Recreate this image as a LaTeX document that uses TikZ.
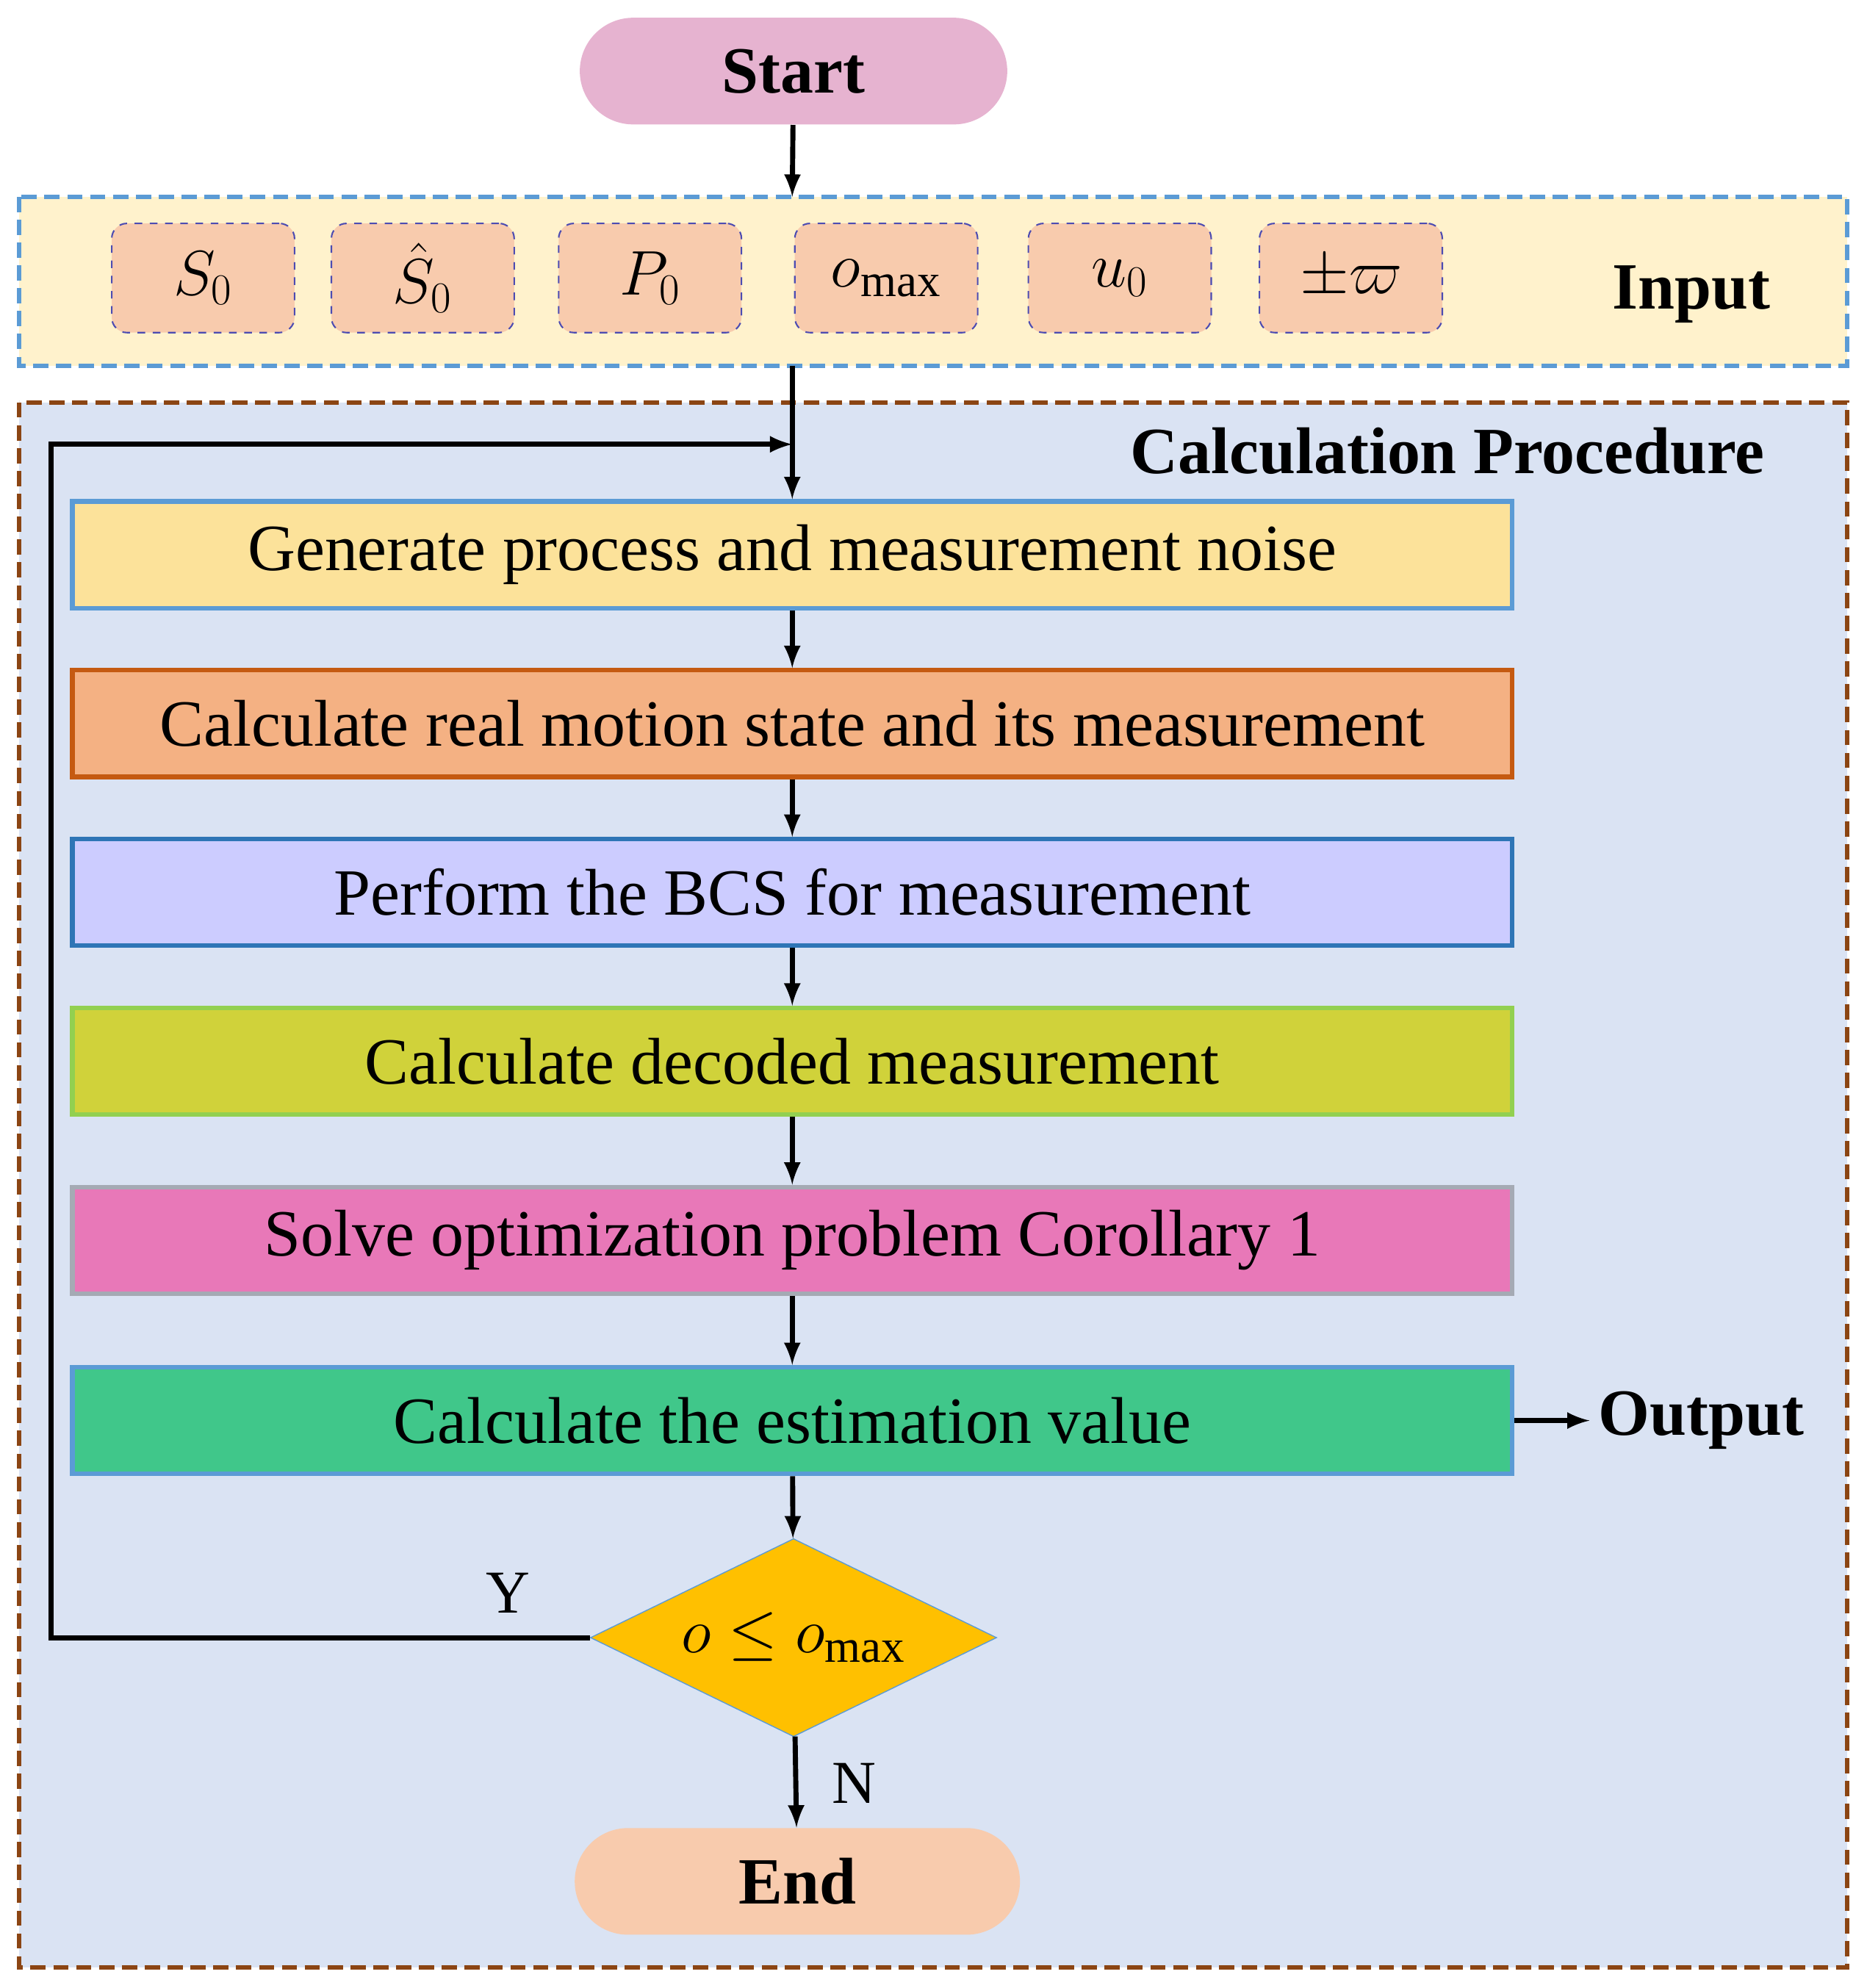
\documentclass[tikz,border=0pt]{standalone}
\usepackage{fontspec}
\setmainfont{Liberation Serif}
\usepackage{amsmath,amssymb}
\usetikzlibrary{shapes.geometric,shapes.misc}
\definecolor{startpink}{HTML}{E6B3D0}
\definecolor{endpeach}{HTML}{F8CBAD}
\definecolor{inyellow}{HTML}{FFF2CC}
\definecolor{calcblue}{HTML}{DAE3F3}
\definecolor{lineblue}{HTML}{5B9BD5}
\definecolor{calcbrown}{HTML}{8B4513}
\tikzset{
  stadium/.style={rounded rectangle, minimum width=175pt, minimum height=42pt, font=\fontsize{26}{28}\selectfont\bfseries},
  inbox/.style={rectangle, rounded corners=6pt, minimum width=72pt, minimum height=43pt, fill=endpeach, draw=gray!60!blue, dashed, line width=0.6pt, font=\fontsize{26}{28}\selectfont},
  procbox/.style={rectangle, minimum width=567pt, minimum height=42pt, line width=1.8pt, font=\fontsize{26}{28}\selectfont},
  frame/.style={dash pattern=on 6pt off 3pt, line width=1.8pt},
  arr/.style={line width=2pt, ->, >=latex}
}
\begin{document}
\begin{tikzpicture}[x=0.5pt, y=-0.5pt]
\useasboundingbox (0,0) rectangle (1470,1566);
\draw [frame, draw=lineblue, fill=inyellow] (15,155) rectangle (1455,288);
\draw [frame, draw=calcbrown, fill=calcblue] (15,317) rectangle (1455,1550);
\node (start) [stadium, fill=startpink] at (625,56) {Start};
\node (s0) [inbox] at (160,219) {$S_0$};
\node (sh0) [inbox] at (333,219) {$\hat{S}_0$};
\node (p0) [inbox] at (512,219) {$P_0$};
\node (omax) [inbox] at (698,219) {$o_{\text{max}}$};
\node (u0) [inbox] at (882,219) {$u_0$};
\node (pm) [inbox] at (1064,219) {$\pm\varpi$};
\node (input) [font=\fontsize{26}{28}\selectfont\bfseries] at (1332,232) {Input};
\node (calc) [font=\fontsize{26}{28}\selectfont\bfseries] at (1140,355) {Calculation Procedure};
\node (gen) [procbox, fill={rgb,255:red,252;green,226;blue,154}, draw=lineblue] at (624,437) {Generate process and measurement noise};
\node (real) [procbox, fill={rgb,255:red,244;green,177;blue,131}, draw={rgb,255:red,197;green,90;blue,17}] at (624,570) {Calculate real motion state and its measurement};
\node (bcs) [procbox, fill={rgb,255:red,204;green,204;blue,255}, draw={rgb,255:red,46;green,117;blue,182}] at (624,703) {Perform the BCS for measurement};
\node (dec) [procbox, fill={rgb,255:red,208;green,210;blue,58}, draw={rgb,255:red,146;green,208;blue,80}] at (624,836) {Calculate decoded measurement};
\node (opt) [procbox, fill={rgb,255:red,232;green,120;blue,184}, draw={rgb,255:red,165;green,170;blue,180}] at (624,977) {Solve optimization problem Corollary 1};
\node (est) [procbox, fill={rgb,255:red,64;green,199;blue,138}, draw=lineblue] at (624,1119) {Calculate the estimation value};
\node (cond) [diamond, aspect=2.1, minimum width=160pt, minimum height=78pt, inner sep=0pt, fill={rgb,255:red,255;green,192;blue,0}, draw=lineblue, font=\fontsize{26}{28}\selectfont] at (625,1290) {$o \le o_{\text{max}}$};
\node (end) [stadium, fill=endpeach, minimum width=182pt] at (628,1482) {End};
\node (output) [font=\fontsize{26}{28}\selectfont\bfseries] at (1340,1119) {Output};
\node (ylab) [font=\fontsize{24}{26}\selectfont] at (400,1255) {Y};
\node (nlab) [font=\fontsize{24}{26}\selectfont] at (673,1405) {N};
\coordinate (top) at (624,350);
\draw [arr] (start) -- (624,155);
\draw [arr] (624,288) -- (gen);
\draw [arr] (gen) -- (real);
\draw [arr] (real) -- (bcs);
\draw [arr] (bcs) -- (dec);
\draw [arr] (dec) -- (opt);
\draw [arr] (opt) -- (est);
\draw [arr] (est) -- (cond);
\draw [arr] (cond) -- (end);
\draw [arr] (est.east) -- (output.west);
\draw [arr] (cond.west) -- (40,1290) -- (40,350) -- (top);
\end{tikzpicture}
\end{document}
